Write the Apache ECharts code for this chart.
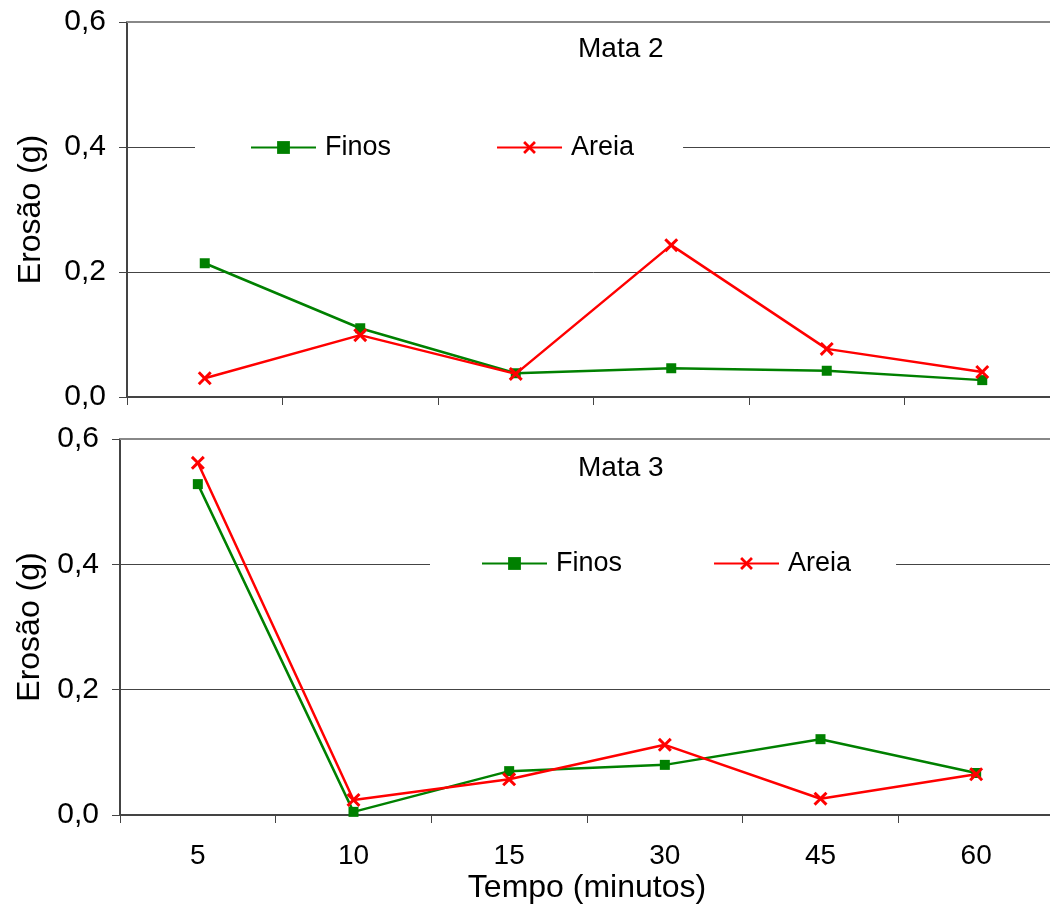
<!DOCTYPE html>
<html>
<head>
<meta charset="utf-8">
<script src="https://cdn.jsdelivr.net/npm/echarts@6/dist/echarts.min.js"></script>
<style>
html,body{margin:0;padding:0;background:#fff;overflow:hidden;}
#chart{width:1070px;height:909px;}
</style>
</head>
<body>
<div id="chart"></div>
<script>
var categories = ['5', '10', '15', '30', '45', '60'];
var mata2Finos = [0.214, 0.110, 0.038, 0.046, 0.042, 0.027];
var mata2Areia = [0.030, 0.099, 0.037, 0.243, 0.077, 0.040];
var mata3Finos = [0.528, 0.005, 0.070, 0.080, 0.121, 0.067];
var mata3Areia = [0.562, 0.024, 0.057, 0.112, 0.026, 0.065];
var yTicks = [0, 0.2, 0.4, 0.6];

var FONT = "'Liberation Sans', Arial, sans-serif";
var X_SYMBOL = 'path://M0,1.5 L1.5,0 L5,3.5 L8.5,0 L10,1.5 L6.5,5 L10,8.5 L8.5,10 L5,6.5 L1.5,10 L0,8.5 L3.5,5 Z';
var GREEN = '#008000', RED = '#ff0000';

function fmt(v) { return v.toFixed(1).replace('.', ','); }

function yAxis(gi, gap) {
  return {
    type: 'value', gridIndex: gi, min: yTicks[0], max: yTicks[yTicks.length - 1], interval: 0.2,
    name: 'Erosão (g)', nameLocation: 'middle', nameGap: gap, nameRotate: 90,
    nameTextStyle: { fontFamily: FONT, fontSize: 32, color: '#000' },
    axisLine: { show: true, lineStyle: { color: '#444', width: 2 } },
    axisTick: { show: true, length: 8, lineStyle: { color: '#444', width: 1 } },
    axisLabel: { fontFamily: FONT, fontSize: 30, color: '#000', margin: 21, formatter: fmt },
    splitLine: { show: true, showMaxLine: false, lineStyle: { color: '#444', width: 1 } }
  };
}
function xAxisBottom(gi, showLabels) {
  var a = {
    type: 'category', gridIndex: gi, data: categories, position: 'bottom', boundaryGap: true,
    axisLine: { show: true, lineStyle: { color: '#444', width: 2 } },
    axisTick: { show: true, length: 8, alignWithLabel: false, lineStyle: { color: '#444', width: 1 } },
    axisLabel: { show: showLabels, fontFamily: FONT, fontSize: 28, color: '#000', margin: 27 },
    splitLine: { show: false }
  };
  if (showLabels) {
    a.name = 'Tempo (minutos)';
    a.nameLocation = 'middle';
    a.nameGap = 57;
    a.nameTextStyle = { fontFamily: FONT, fontSize: 32, color: '#000' };
  }
  return a;
}
function xAxisTop(gi) {
  return {
    type: 'category', gridIndex: gi, data: categories, position: 'top',
    axisLine: { show: true, lineStyle: { color: '#888', width: 2 } },
    axisTick: { show: false }, axisLabel: { show: false }, splitLine: { show: false }
  };
}
function lineSeries(name, data, xi, yi, isX) {
  return {
    name: name, type: 'line', data: data, xAxisIndex: xi, yAxisIndex: yi,
    symbol: isX ? X_SYMBOL : 'rect', symbolSize: isX ? 14 : 10,
    lineStyle: { color: isX ? RED : GREEN, width: 2.5 },
    itemStyle: { color: isX ? RED : GREEN },
    emphasis: { disabled: true }, animation: false, z: isX ? 3 : 2
  };
}
function legend(left, top, gap, padL, padR) {
  return {
    data: ['Finos', 'Areia'], left: left, top: top, orient: 'horizontal',
    itemWidth: 65, itemHeight: 16, itemGap: gap,
    backgroundColor: '#fff', padding: [8, padR, 8, padL],
    textStyle: { fontFamily: FONT, fontSize: 27, color: '#000', padding: [0, 0, 0, 4] },
    selectedMode: false
  };
}

var chart = echarts.init(document.getElementById('chart'), null, { renderer: 'canvas' });
chart.setOption({
  backgroundColor: '#fff',
  animation: false,
  title: [
    { text: 'Mata 2', left: 578, top: 35, padding: 0, textStyle: { fontFamily: FONT, fontSize: 28, fontWeight: 'normal', color: '#000' } },
    { text: 'Mata 3', left: 578, top: 454, padding: 0, textStyle: { fontFamily: FONT, fontSize: 28, fontWeight: 'normal', color: '#000' } }
  ],
  legend: [
    legend(195, 126, 105, 55, 49),
    legend(430, 542, 91, 51, 45)
  ],
  grid: [
    { left: 127, right: 10, top: 22, height: 375, containLabel: false },
    { left: 120, right: 16, top: 439, height: 376, containLabel: false }
  ],
  xAxis: [xAxisBottom(0, false), xAxisTop(0), xAxisBottom(1, true), xAxisTop(1)],
  yAxis: [yAxis(0, 80), yAxis(1, 74)],
  series: [
    lineSeries('Finos', mata2Finos, 0, 0, false),
    lineSeries('Areia', mata2Areia, 0, 0, true),
    lineSeries('Finos', mata3Finos, 2, 1, false),
    lineSeries('Areia', mata3Areia, 2, 1, true)
  ]
});
</script>
</body>
</html>
